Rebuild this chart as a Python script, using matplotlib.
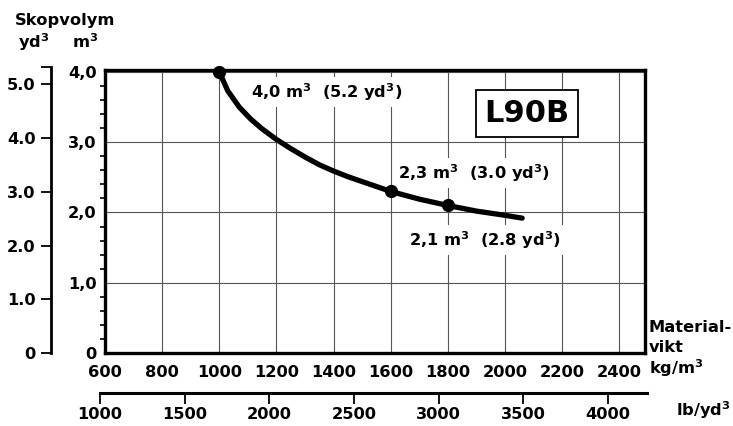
import matplotlib.pyplot as plt
import numpy as np

plt.rcParams['font.family'] = 'DejaVu Sans'
plt.rcParams['font.weight'] = 'bold'
plt.rcParams['mathtext.fontset'] = 'dejavusans'
plt.rcParams['mathtext.default'] = 'bf'

# material density (kg/m3) vs bucket volume (m3)
density = [1000, 1030, 1070, 1110, 1150, 1200, 1250, 1300, 1350, 1400, 1450,
           1500, 1550, 1600, 1700, 1800, 1900, 2000, 2060]
volume = [4.0, 3.73, 3.50, 3.33, 3.19, 3.04, 2.91, 2.79, 2.68, 2.59, 2.51,
          2.44, 2.37, 2.30, 2.19, 2.10, 2.02, 1.96, 1.92]

marked_density = [1000, 1600, 1800]
marked_volume = [4.0, 2.3, 2.1]
marked_text = ['4,0 m$^3$  (5.2 yd$^3$)', '2,3 m$^3$  (3.0 yd$^3$)',
               '2,1 m$^3$  (2.8 yd$^3$)']
text_pos = [(1110, 3.72), (1625, 2.56), (1664, 1.61)]

kg_ticks = [600, 800, 1000, 1200, 1400, 1600, 1800, 2000, 2200, 2400]
m3_ticks = [0, 1, 2, 3, 4]
m3_labels = ['0', '1,0', '2,0', '3,0', '4,0']
yd3_ticks = [0, 1, 2, 3, 4, 5]
yd3_labels = ['0', '1.0', '2.0', '3.0', '4.0', '5.0']
lb_ticks = [1000, 1500, 2000, 2500, 3000, 3500, 4000]

M3_PER_YD3 = 0.764555
W, H = 733, 426
FS = 11.7

fig = plt.figure(figsize=(W / 100, H / 100), dpi=100)

# main chart
ax = fig.add_axes([105 / W, (H - 353) / H, 540 / W, 283 / H])
ax.set_xlim(600, 2490)
ax.set_ylim(0, 283 / 70.25)
ax.set_xticks(kg_ticks)
ax.set_xticklabels([str(t) for t in kg_ticks], fontsize=FS, fontweight='bold')
ax.set_yticks(m3_ticks)
ax.set_yticklabels(m3_labels, fontsize=FS, fontweight='bold')
ax.set_yticks([v / 5 for v in range(1, 20) if v % 5], minor=True)
ax.tick_params(axis='x', length=0, pad=8.5)
ax.tick_params(axis='y', which='major', length=0, pad=6)
ax.tick_params(axis='y', which='minor', length=3.6, width=1.2, direction='out')
ax.grid(True, color='#555555', lw=0.8)
ax.set_axisbelow(True)
for s in ax.spines.values():
    s.set_linewidth(2.4)

ax.plot(density, volume, color='black', lw=3.8, solid_capstyle='round',
        solid_joinstyle='round', zorder=5)
ax.plot(marked_density, marked_volume, 'o', color='black', ms=8.5, zorder=6,
        clip_on=False)

for txt, (x, y) in zip(marked_text, text_pos):
    ax.text(x, y, txt, fontsize=FS, fontweight='bold', ha='left', va='center',
            zorder=4, bbox=dict(facecolor='white', edgecolor='none', pad=3))

ax.text(2077, 3.41, 'L90B', fontsize=22, fontweight='bold', ha='center',
        va='center', zorder=4,
        bbox=dict(boxstyle='square,pad=0.28', facecolor='white',
                  edgecolor='black', lw=1.3))

# yd3 scale on the far left
ax_yd = fig.add_axes([51 / W, (H - 353) / H, 0.0001, 286 / H])
ax_yd.set_ylim(0, 286 / (70.25 * M3_PER_YD3))
ax_yd.set_yticks(yd3_ticks + [ax_yd.get_ylim()[1]])
ax_yd.set_yticklabels(yd3_labels + [''], fontsize=FS, fontweight='bold')
ax_yd.set_xticks([])
ax_yd.tick_params(axis='y', length=7, width=1.3, pad=4)
for side in ['top', 'right', 'bottom']:
    ax_yd.spines[side].set_visible(False)
ax_yd.spines['left'].set_linewidth(2)
ax_yd.patch.set_visible(False)

# lb/yd3 scale below
ax_lb = fig.add_axes([100 / W, (H - 393) / H, 547 / W, 0.0001])
ax_lb.set_xlim(1000, 1000 + 547 / 0.16933)
ax_lb.set_xticks(lb_ticks)
ax_lb.set_xticklabels([str(t) for t in lb_ticks], fontsize=FS, fontweight='bold')
ax_lb.set_yticks([])
ax_lb.tick_params(axis='x', length=8, width=1.3, pad=2)
for side in ['top', 'right', 'left']:
    ax_lb.spines[side].set_visible(False)
ax_lb.spines['bottom'].set_linewidth(2.2)
ax_lb.patch.set_visible(False)

# headings and unit labels
fig.text(15 / W, 1 - 20 / H, 'Skopvolym', fontsize=FS, fontweight='bold',
         ha='left', va='center')
fig.text(34 / W, 1 - 42 / H, 'yd$^3$', fontsize=FS, fontweight='bold',
         ha='center', va='center')
fig.text(85 / W, 1 - 42 / H, 'm$^3$', fontsize=FS, fontweight='bold',
         ha='center', va='center')
fig.text(649 / W, 1 - 328 / H, 'Material-', fontsize=FS, fontweight='bold',
         ha='left', va='center')
fig.text(649 / W, 1 - 347 / H, 'vikt', fontsize=FS, fontweight='bold',
         ha='left', va='center')
fig.text(649 / W, 1 - 368 / H, 'kg/m$^3$', fontsize=FS, fontweight='bold',
         ha='left', va='center')
fig.text(676 / W, 1 - 410 / H, 'lb/yd$^3$', fontsize=FS, fontweight='bold',
         ha='left', va='center')

fig.savefig('out.png', dpi=100)
